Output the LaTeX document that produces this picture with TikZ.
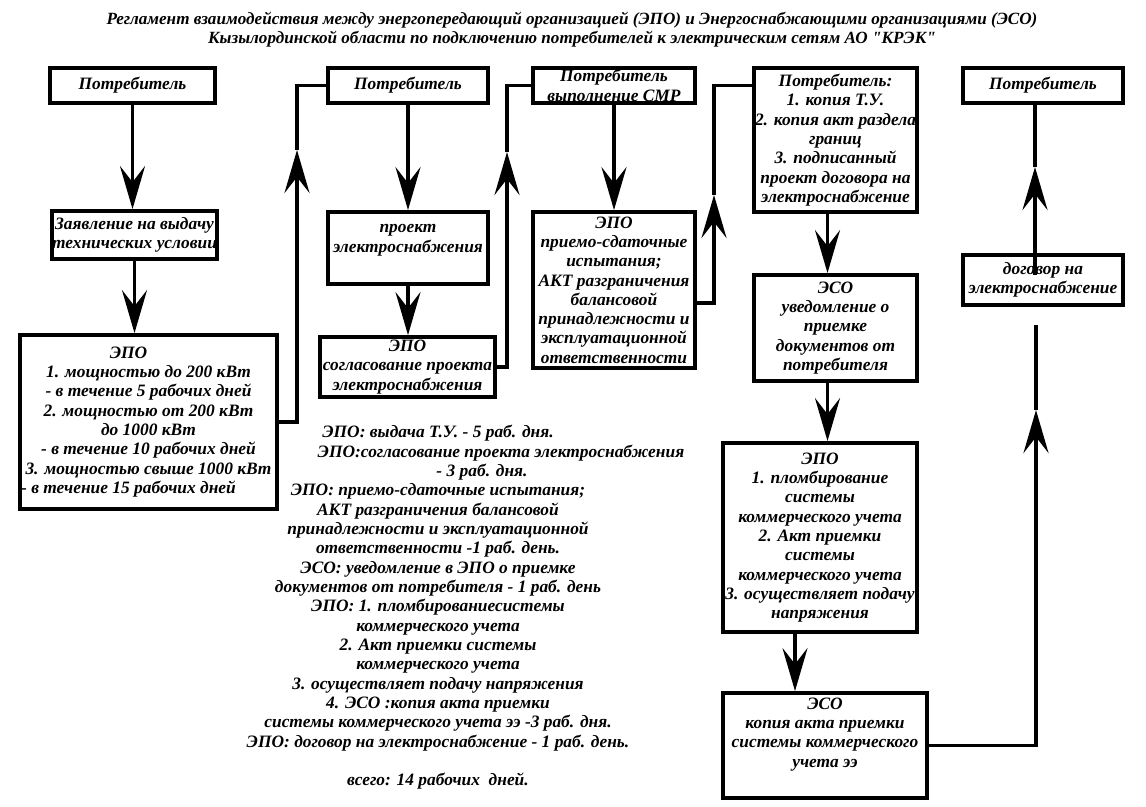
\documentclass[tikz,border=0pt]{standalone}
\usepackage{fontspec}
\setmainfont{Liberation Serif}[Ligatures=TeXOff]
\usetikzlibrary{positioning,arrows.meta,calc}
\newcommand{\regfont}{\fontsize{9.9}{11}\selectfont\bfseries\itshape}
\newcommand{\headfont}{\fontsize{9.75}{10.8}\selectfont\bfseries\itshape}

\begin{document}
\begin{tikzpicture}[
x=0.02cm,y=-0.02cm,
box/.style={rectangle,draw=black,line width=2.2pt,fill=white,inner sep=0pt,
align=center,font=\regfont},
arrow/.style={-{Stealth[length=8.6mm,width=5mm,inset=3.2mm]},line width=2.2pt},
link/.style={line width=2.2pt},
note/.style={align=center,font=\regfont,inner sep=0pt}
]
\useasboundingbox[fill=white] (0,0) rectangle (1146,806);
\node[note,font=\headfont] (title) at (572,29.5) {Регламент взаимодействия между энергопередающий организацией (ЭПО) и Энергоснабжающими организациями (ЭСО)\\Кызылординской области по подключению потребителей к электрическим сетям АО "КРЭК"};
% column 1
\node[box,minimum width=3.3cm,minimum height=0.7cm] (b1) at (132.5,85.5) {Потребитель};
\node[box,minimum width=3.3cm,minimum height=0.96cm] (b2) at (134.5,235) {Заявление на выдачу\\технических условии};
\node[box,minimum width=5.14cm,minimum height=3.48cm] (b3) at (148.5,422) {ЭПО\hspace*{0.8cm}\\1. мощностью до 200 кВт\hspace*{0.8cm}\\- в течение 5 рабочих дней\hspace*{0.8cm}\\2. мощностью от 200 кВт\hspace*{0.8cm}\\до 1000 кВт\hspace*{0.8cm}\\- в течение 10 рабочих дней\hspace*{0.8cm}\\3. мощностью свыше 1000 кВт\\- в течение 15 рабочих дней\hspace*{0.8cm}};
% column 2
\node[box,minimum width=3.2cm,minimum height=0.7cm] (b4) at (408,85.5) {Потребитель};
\node[box,minimum width=3.2cm,minimum height=1.44cm] (b5) at (408,248) {проект\\электроснабжения\\\mbox{}};
\node[box,minimum width=3.5cm,minimum height=1.2cm] (b6) at (407.5,367) {ЭПО\\согласование проекта\\электроснабжения};
% column 3
\node[box,minimum width=3.24cm,minimum height=0.7cm] (b7) at (614,85.5) {Потребитель\\выполнение СМР};
\node[box,minimum width=3.24cm,minimum height=3.12cm] (b8) at (614,290) {ЭПО\\приемо-сдаточные\\испытания;\\АКТ разграничения\\балансовой\\принадлежности и\\эксплуатационной\\ответственности};
% column 4
\node[box,minimum width=3.26cm,minimum height=2.88cm] (b9) at (835.5,140) {Потребитель:\\1. копия Т.У.\\2. копия акт раздела\\границ\\3. подписанный\\проект договора на\\электроснабжение};
\node[box,minimum width=3.26cm,minimum height=2.12cm] (b10) at (835.5,328) {ЭСО\\уведомление о\\приемке\\документов от\\потребителя};
\node[box,minimum width=3.88cm,minimum height=3.78cm] (b11) at (820,537.5) {ЭПО\\1. пломбирование\\системы\\коммерческого учета\\2. Акт приемки\\системы\\коммерческого учета\\3. осуществляет подачу\\напряжения};
\node[box,minimum width=4.08cm,minimum height=2.1cm] (b12) at (825,745.5) {ЭСО\\копия акта приемки\\системы коммерческого\\учета ээ\\[4pt]};
% column 5
\node[box,minimum width=3.2cm,minimum height=0.7cm] (b14) at (1043,85.5) {Потребитель};
\node[box,minimum width=3.2cm,minimum height=1.0cm] (b13) at (1043,280) {договор на\\электроснабжение};
% terms
\node[note] (terms) at (438,607.5) {ЭПО: выдача Т.У. - 5 раб. дня.\\
\hspace*{2.52cm}ЭПО:согласование проекта электроснабжения\\
\hspace*{1.76cm}- 3 раб. дня.\\
ЭПО: приемо-сдаточные испытания;\\
АКТ разграничения балансовой\\
принадлежности и эксплуатационной\\
ответственности -1 раб. день.\\
ЭСО: уведомление в ЭПО о приемке\\
документов от потребителя - 1 раб. день\\
ЭПО: 1. пломбированиесистемы\\
коммерческого учета\\
2. Акт приемки системы\\
коммерческого учета\\
3. осуществляет подачу напряжения\\
4. ЭСО :копия акта приемки\\
системы коммерческого учета ээ -3 раб. дня.\\
ЭПО: договор на электроснабжение - 1 раб. день.\\[11pt]
всего: 14 рабочих\ \ дней.};
% connectors
\coordinate (up1) at (297,150);
\coordinate (up2) at (507,152);
\coordinate (up3) at (714,195);
\coordinate (up4) at (1036,410);
\coordinate (end4) at (1036,325);
\coordinate (from5) at (1035,275);
\coordinate (up5) at (1035,167);
\coordinate (d9) at ([xshift=-0.16cm]b9.south);
\coordinate (d10) at ([xshift=-0.16cm]b10.south);
\coordinate (d11) at ([xshift=-0.5cm]b11.south);
\draw[arrow] (b1.south) -- (b1.south |- b2.north);
\draw[arrow] (b2.south) -- (b2.south |- b3.north);
\draw[arrow] (b3.east) -| (up1); \draw[link] (up1) |- (b4.west);
\draw[arrow] (b4.south) -- (b4.south |- b5.north);
\draw[arrow] (b5.south) -- (b5.south |- b6.north);
\draw[arrow] (b6.east) -| (up2); \draw[link] (up2) |- (b7.west);
\draw[arrow] (b7.south) -- (b8.north);
\draw[arrow] ($(b8.east)+(0,13)$) -| (up3); \draw[link] (up3) |- (b9.west |- b7.west);
\draw[arrow] (d9) -- (d9 |- b10.north);
\draw[arrow] (d10) -- (d10 |- b11.north);
\draw[arrow] (d11) -- (d11 |- b12.north);
\draw[arrow] (b12.east) -| (up4); \draw[link] (up4) -- (end4);
\draw[arrow] (from5) -- (up5); \draw[link] (up5) -- (up5 |- b14.south);
\end{tikzpicture}
\end{document}
